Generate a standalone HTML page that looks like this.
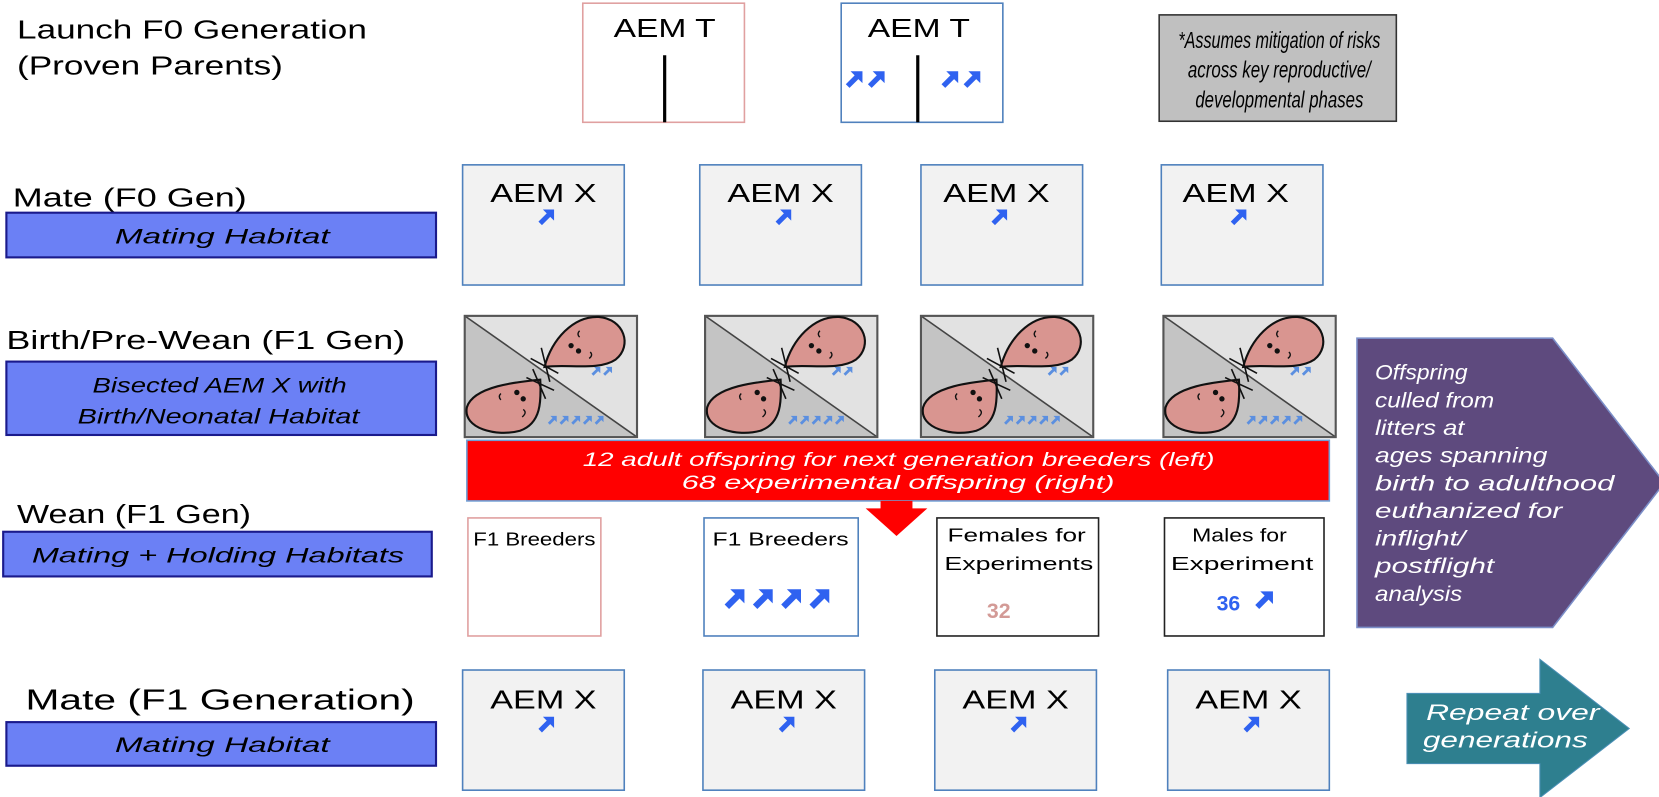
<!DOCTYPE html>
<html><head><meta charset="utf-8"><style>
html,body{margin:0;padding:0;background:#fff;width:1659px;height:797px;overflow:hidden}
svg{display:block}
text{font-family:"Liberation Sans","DejaVu Sans",sans-serif}
.it{font-style:italic}
</style></head><body>
<svg width="1659" height="797" viewBox="0 0 1560 749.4" preserveAspectRatio="none" xmlns="http://www.w3.org/2000/svg">
<defs>
<path id="ar" d="M3,0 L10,0 L10,7 L7.6,4.6 L2.4,9.8 L0.2,7.6 L5.4,2.4 Z"/>
<g id="a1"><use href="#ar" fill="#2f62f0"/></g>
<g id="la"><use href="#ar" fill="#5b8fe0" transform="scale(0.85)"/></g>
<g id="cell">
  <rect x="0" y="0" width="162" height="114" fill="#e2e2e2"/>
  <polygon points="0,0 0,114 162,114" fill="#c4c4c4"/>
  <line x1="0" y1="0" x2="162" y2="114" stroke="#444" stroke-width="1.5"/>
  <rect x="0" y="0" width="162" height="114" fill="none" stroke="#555" stroke-width="2"/>
  <use href="#la" x="108" y="34"/><use href="#la" x="119" y="34"/><use href="#la" x="130" y="34"/>
  <use href="#la" x="119" y="48"/><use href="#la" x="130" y="48"/>
  <use href="#la" x="78" y="94"/><use href="#la" x="89" y="94"/><use href="#la" x="100" y="94"/><use href="#la" x="111" y="94"/><use href="#la" x="122" y="94"/>
  <path d="M75,48 C82,22 102,0 126,1 C150,3 158,28 142,41 C126,52 96,45 75,48 Z" fill="#d99590" stroke="#111" stroke-width="2"/>
  <line x1="62" y1="40" x2="88" y2="54" stroke="#111" stroke-width="1.5"/>
  <line x1="72" y1="30" x2="80" y2="62" stroke="#111" stroke-width="1.5"/>
  <circle cx="100" cy="28" r="2.5" fill="#111"/><circle cx="107" cy="33" r="2.5" fill="#111"/>
  <path d="M108,14 q-3,3 0,6" fill="none" stroke="#111" stroke-width="1.3"/>
  <path d="M118,34 q3,3 -1,6" fill="none" stroke="#111" stroke-width="1.3"/>
  <path d="M71,60 C50,62 8,66 2,86 C-2,106 30,114 52,108 C72,101 72,80 71,60 Z" fill="#d99590" stroke="#111" stroke-width="2"/>
  <line x1="58" y1="58" x2="84" y2="70" stroke="#111" stroke-width="1.5"/>
  <line x1="64" y1="50" x2="76" y2="78" stroke="#111" stroke-width="1.5"/>
  <circle cx="49" cy="72" r="2.5" fill="#111"/><circle cx="55" cy="78" r="2.5" fill="#111"/>
  <path d="M34,73 q-3,3 0,6" fill="none" stroke="#111" stroke-width="1.3"/>
  <path d="M55,88 q4,3 -1,7" fill="none" stroke="#111" stroke-width="1.3"/>
</g>
</defs>

<text x="16" y="36" font-size="24" textLength="329" lengthAdjust="spacingAndGlyphs">Launch F0 Generation</text>
<text x="16" y="70" font-size="24" textLength="250" lengthAdjust="spacingAndGlyphs">(Proven Parents)</text>
<rect x="548" y="3" width="152" height="112" fill="#fff" stroke="#e0a0a0" stroke-width="1.5"/>
<text x="577" y="35" font-size="24" textLength="96" lengthAdjust="spacingAndGlyphs">AEM T</text>
<line x1="625" y1="52" x2="625" y2="115" stroke="#000" stroke-width="3"/>
<rect x="791" y="3" width="152" height="112" fill="#fff" stroke="#4f81bd" stroke-width="1.5"/>
<text x="816" y="35" font-size="24" textLength="96" lengthAdjust="spacingAndGlyphs">AEM T</text>
<line x1="863" y1="52" x2="863" y2="115" stroke="#000" stroke-width="3"/>
<g transform="translate(795,67) scale(1.6)"><use href="#a1"/><use href="#a1" x="13"/></g>
<g transform="translate(885,67) scale(1.6)"><use href="#a1"/><use href="#a1" x="13"/></g>
<rect x="1090" y="14" width="223" height="100" fill="#c0c0c0" stroke="#333" stroke-width="1.5"/>
<text class="it" x="1108" y="45" font-size="22" textLength="190" lengthAdjust="spacingAndGlyphs">*Assumes mitigation of risks</text>
<text class="it" x="1117" y="73" font-size="22" textLength="172" lengthAdjust="spacingAndGlyphs">across key reproductive/</text>
<text class="it" x="1124" y="101" font-size="22" textLength="158" lengthAdjust="spacingAndGlyphs">developmental phases</text>

<text x="12" y="194" font-size="24" textLength="220" lengthAdjust="spacingAndGlyphs">Mate (F0 Gen)</text>
<rect x="6" y="200" width="404" height="42" fill="#6b80f5" stroke="#1a1a8c" stroke-width="2"/>
<text class="it" x="108" y="229" font-size="20" textLength="202" lengthAdjust="spacingAndGlyphs">Mating Habitat</text>
<g fill="#f2f2f2" stroke="#4f81bd" stroke-width="1.5">
<rect x="435" y="155" width="152" height="113"/><rect x="658" y="155" width="152" height="113"/>
<rect x="866" y="155" width="152" height="113"/><rect x="1092" y="155" width="152" height="113"/>
</g>
<g font-size="24">
<text x="461" y="190" textLength="100" lengthAdjust="spacingAndGlyphs">AEM X</text>
<text x="684" y="190" textLength="100" lengthAdjust="spacingAndGlyphs">AEM X</text>
<text x="887" y="190" textLength="100" lengthAdjust="spacingAndGlyphs">AEM X</text>
<text x="1112" y="190" textLength="100" lengthAdjust="spacingAndGlyphs">AEM X</text>
</g>
<g transform="translate(506,197) scale(1.5)"><use href="#a1"/></g>
<g transform="translate(729,197) scale(1.5)"><use href="#a1"/></g>
<g transform="translate(932,197) scale(1.5)"><use href="#a1"/></g>
<g transform="translate(1157,197) scale(1.5)"><use href="#a1"/></g>

<text x="6" y="328" font-size="24" textLength="375" lengthAdjust="spacingAndGlyphs">Birth/Pre-Wean (F1 Gen)</text>
<rect x="6" y="340" width="404" height="69" fill="#6b80f5" stroke="#1a1a8c" stroke-width="2"/>
<text class="it" x="87" y="369" font-size="20" textLength="239" lengthAdjust="spacingAndGlyphs">Bisected AEM X with</text>
<text class="it" x="73" y="398" font-size="20" textLength="265" lengthAdjust="spacingAndGlyphs">Birth/Neonatal Habitat</text>
<use href="#cell" x="437" y="297"/>
<use href="#cell" x="663" y="297"/>
<use href="#cell" x="866" y="297"/>
<use href="#cell" x="1094" y="297"/>

<polygon points="1276,318 1460,318 1565,454 1460,590 1276,590" fill="#5e4a7e" stroke="#7b8ec8" stroke-width="1.5"/>
<g class="it" font-size="20" fill="#fff">
<text x="1293" y="357" textLength="87" lengthAdjust="spacingAndGlyphs">Offspring</text>
<text x="1293" y="383" textLength="112" lengthAdjust="spacingAndGlyphs">culled from</text>
<text x="1293" y="409" textLength="84" lengthAdjust="spacingAndGlyphs">litters at</text>
<text x="1293" y="435" textLength="162" lengthAdjust="spacingAndGlyphs">ages spanning</text>
<text x="1293" y="461" textLength="225" lengthAdjust="spacingAndGlyphs">birth to adulthood</text>
<text x="1293" y="487" textLength="176" lengthAdjust="spacingAndGlyphs">euthanized for</text>
<text x="1293" y="513" textLength="85" lengthAdjust="spacingAndGlyphs">inflight/</text>
<text x="1293" y="539" textLength="112" lengthAdjust="spacingAndGlyphs">postflight</text>
<text x="1293" y="565" textLength="82" lengthAdjust="spacingAndGlyphs">analysis</text>
</g>

<rect x="439" y="414" width="811" height="57" fill="#ff0000" stroke="#6f9fd5" stroke-width="1.5"/>
<text class="it" x="548" y="438" font-size="18" fill="#fff" textLength="594" lengthAdjust="spacingAndGlyphs">12 adult offspring for next generation breeders (left)</text>
<text class="it" x="641" y="460" font-size="18" fill="#fff" textLength="407" lengthAdjust="spacingAndGlyphs">68 experimental offspring (right)</text>
<polygon points="828,471 858,471 858,478 872,478 843,504 814,478 828,478" fill="#ff0000"/>

<text x="16" y="492" font-size="24" textLength="220" lengthAdjust="spacingAndGlyphs">Wean (F1 Gen)</text>
<rect x="3" y="500" width="403" height="42" fill="#6b80f5" stroke="#1a1a8c" stroke-width="2"/>
<text class="it" x="30" y="529" font-size="20" textLength="350" lengthAdjust="spacingAndGlyphs">Mating + Holding Habitats</text>
<rect x="440" y="487" width="125" height="111" fill="#fff" stroke="#e0a0a0" stroke-width="1.5"/>
<rect x="662" y="487" width="145" height="111" fill="#fff" stroke="#4f81bd" stroke-width="1.5"/>
<rect x="881" y="487" width="152" height="111" fill="#fff" stroke="#222" stroke-width="1.5"/>
<rect x="1095" y="487" width="150" height="111" fill="#fff" stroke="#222" stroke-width="1.5"/>
<g font-size="17">
<text x="445" y="513" textLength="115" lengthAdjust="spacingAndGlyphs">F1 Breeders</text>
<text x="670" y="513" textLength="128" lengthAdjust="spacingAndGlyphs">F1 Breeders</text>
<text x="891" y="509" textLength="130" lengthAdjust="spacingAndGlyphs">Females for</text>
<text x="888" y="536" textLength="140" lengthAdjust="spacingAndGlyphs">Experiments</text>
<text x="1121" y="509" textLength="89" lengthAdjust="spacingAndGlyphs">Males for</text>
<text x="1101" y="536" textLength="134" lengthAdjust="spacingAndGlyphs">Experiment</text>
</g>
<g transform="translate(681,554) scale(1.9)"><use href="#a1"/><use href="#a1" x="14"/><use href="#a1" x="28"/><use href="#a1" x="42"/></g>
<text x="928" y="581" font-size="20" font-weight="bold" fill="#d39a96">32</text>
<text x="1144" y="574" font-size="20" font-weight="bold" fill="#2f62f0">36</text>
<g transform="translate(1180,556) scale(1.7)"><use href="#a1"/></g>

<text x="24" y="667" font-size="27" textLength="366" lengthAdjust="spacingAndGlyphs">Mate (F1 Generation)</text>
<rect x="6" y="679" width="404" height="41" fill="#6b80f5" stroke="#1a1a8c" stroke-width="2"/>
<text class="it" x="108" y="707" font-size="20" textLength="202" lengthAdjust="spacingAndGlyphs">Mating Habitat</text>
<g fill="#f2f2f2" stroke="#4f81bd" stroke-width="1.5">
<rect x="435" y="630" width="152" height="113"/><rect x="661" y="630" width="152" height="113"/>
<rect x="879" y="630" width="152" height="113"/><rect x="1098" y="630" width="152" height="113"/>
</g>
<g font-size="24">
<text x="461" y="666" textLength="100" lengthAdjust="spacingAndGlyphs">AEM X</text>
<text x="687" y="666" textLength="100" lengthAdjust="spacingAndGlyphs">AEM X</text>
<text x="905" y="666" textLength="100" lengthAdjust="spacingAndGlyphs">AEM X</text>
<text x="1124" y="666" textLength="100" lengthAdjust="spacingAndGlyphs">AEM X</text>
</g>
<g transform="translate(506,674) scale(1.5)"><use href="#a1"/></g>
<g transform="translate(732,674) scale(1.5)"><use href="#a1"/></g>
<g transform="translate(950,674) scale(1.5)"><use href="#a1"/></g>
<g transform="translate(1169,674) scale(1.5)"><use href="#a1"/></g>
<polygon points="1323,652 1448,652 1448,620 1532,685 1448,750 1448,718 1323,718" fill="#2e7f8f" stroke="#4a8fb5" stroke-width="1"/>
<text class="it" x="1341" y="677" font-size="21" fill="#fff" textLength="163" lengthAdjust="spacingAndGlyphs">Repeat over</text>
<text class="it" x="1338" y="703" font-size="21" fill="#fff" textLength="155" lengthAdjust="spacingAndGlyphs">generations</text>
</svg>
</body></html>
